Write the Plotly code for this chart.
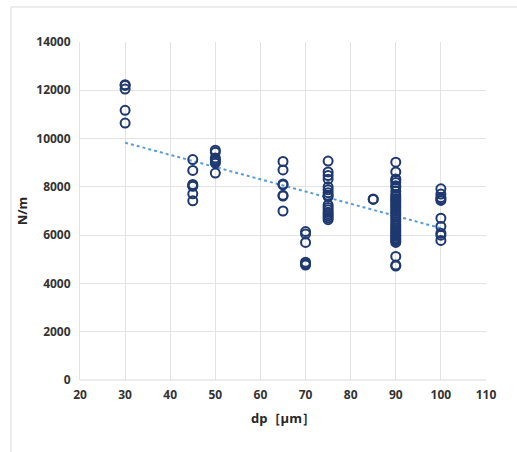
import numpy as np
import plotly.graph_objects as go

# Particle diameter dp [µm] and measured N/m values for each group
dp_30 = [12230, 12200, 12050, 11170, 10640]
dp_45 = [9130, 8680, 8100, 8050, 8020, 7710, 7420]
dp_50 = [9520, 9430, 9200, 9120, 9050, 8980, 8570]
dp_65 = [9050, 8700, 8120, 8080, 7650, 7620, 7000]
dp_70 = [6150, 6050, 5700, 4880, 4820, 4760]
dp_75 = [9070, 8620, 8470, 8320, 8000, 7880, 7760, 7650, 7600, 7250,
         7150, 7050, 6950, 6880, 6800, 6720, 6640]
dp_85 = [7500, 7480]
dp_90 = [9020, 8620, 8330, 8280, 8180, 8050, 7980, 7820, 7680, 7600,
         7520, 7450, 7380, 7300, 7220, 7150, 7060, 6980, 6900, 6820,
         6740, 6650, 6550, 6450, 6380, 6300, 6220, 6150, 6080, 6000,
         5950, 5880, 5820, 5760, 5700, 5120, 4760, 4720]
dp_100 = [7920, 7700, 7560, 7500, 7440, 6700, 6360, 6080, 6000, 5780]

groups = {30: dp_30, 45: dp_45, 50: dp_50, 65: dp_65, 70: dp_70,
          75: dp_75, 85: dp_85, 90: dp_90, 100: dp_100}

x_vals = []
y_vals = []
for d, vals in groups.items():
    x_vals += [d] * len(vals)
    y_vals += vals
x_vals = np.array(x_vals, dtype=float)
y_vals = np.array(y_vals, dtype=float)

# Linear trend line (least squares) over the measured range
slope, intercept = np.polyfit(x_vals, y_vals, 1)
trend_x = np.array([x_vals.min(), x_vals.max()])
trend_y = slope * trend_x + intercept

fig = go.Figure()
fig.add_trace(go.Scatter(
    x=trend_x, y=trend_y, mode="lines",
    line=dict(color="#5B9BD5", width=2, dash="dot"),
    hoverinfo="skip", showlegend=False,
))
fig.add_trace(go.Scatter(
    x=x_vals, y=y_vals, mode="markers",
    marker=dict(symbol="circle-open", size=9, color="#1F3870",
                line=dict(width=2, color="#1F3870")),
    showlegend=False,
))

tick_font = dict(family="Open Sans", size=12, color="#333333")
title_font = dict(family="Open Sans", size=13, color="#262626")

fig.update_layout(
    width=517, height=452,
    margin=dict(l=80, r=31, t=42, b=72),
    paper_bgcolor="white", plot_bgcolor="white",
    xaxis=dict(
        range=[20, 110], dtick=10, tick0=20,
        showgrid=True, gridcolor="#E3E3E3", gridwidth=1,
        zeroline=False, showline=False,
        tickfont=tick_font, ticks="", ticklabelstandoff=6,
        title=dict(text="<b>dp［μm］</b>", font=title_font, standoff=11),
    ),
    yaxis=dict(
        range=[0, 14000], dtick=2000, tickformat="d",
        showgrid=True, gridcolor="#E3E3E3", gridwidth=1,
        zeroline=False, showline=True, linecolor="#E3E3E3",
        tickfont=tick_font, ticks="", ticklabelstandoff=6,
        title=dict(text="<b>N/m</b>", font=title_font, standoff=5),
    ),
    shapes=[
        # outer chart frame
        dict(type="rect", xref="paper", yref="paper",
             x0=-0.17, x1=1.25, y0=-0.5, y1=1.1036,
             line=dict(color="#D9D9D9", width=1), layer="below"),
        # bottom axis line
        dict(type="line", xref="paper", yref="paper",
             x0=0, x1=1, y0=0, y1=0,
             line=dict(color="#D9D9D9", width=1)),
    ],
)
fig.update_xaxes(tickprefix="<b>", ticksuffix="</b>")
fig.update_yaxes(tickprefix="<b>", ticksuffix="</b>")

fig.write_html("out.html")
